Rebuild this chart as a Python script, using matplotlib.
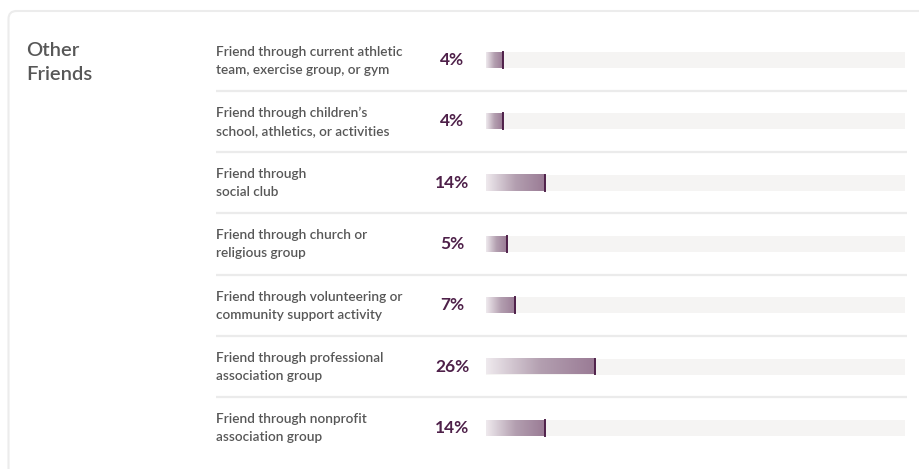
import matplotlib.pyplot as plt
import numpy as np
from matplotlib.colors import LinearSegmentedColormap
from matplotlib.patches import FancyBboxPatch

# data
group_title = "Other\nFriends"
labels = [
    "Friend through current athletic\nteam, exercise group, or gym",
    "Friend through children\u2019s\nschool, athletics, or activities",
    "Friend through\nsocial club",
    "Friend through church or\nreligious group",
    "Friend through volunteering or\ncommunity support activity",
    "Friend through professional\nassociation group",
    "Friend through nonprofit\nassociation group",
]
values = [4, 4, 14, 5, 7, 26, 14]

W, H = 919, 469
FONT = ["Lato", "DejaVu Sans"]
DARK = "#4e2049"
GREY_TXT = "#575757"

fig = plt.figure(figsize=(W / 100, H / 100), dpi=100)
fig.patch.set_facecolor("white")

# full-figure axes in pixel coordinates for decoration and text
base = fig.add_axes([0, 0, 1, 1])
base.set_xlim(0, W)
base.set_ylim(H, 0)
base.axis("off")

card = FancyBboxPatch((8.5, 11), W + 20, H + 40,
                      boxstyle="round,pad=0,rounding_size=8",
                      fc="white", ec="#ececec", lw=1.5)
base.add_patch(card)

base.text(26, 62, group_title, fontsize=14.5, color=GREY_TXT, family=FONT,
          fontweight="semibold", va="center", ha="left", linespacing=1.5)

row0, step = 60.0, 61.3
n = len(values)
for i, (lab, v) in enumerate(zip(labels, values)):
    yc = row0 + i * step
    base.text(216, yc + 0.5, lab, fontsize=9.8, color=GREY_TXT, family=FONT,
              fontweight="semibold", va="center", ha="left", linespacing=1.6)
    base.text(452, yc, f"{v}%", fontsize=12.5, color=DARK, family=FONT,
              fontweight="bold", va="center", ha="center")
    if i < n - 1:
        base.plot([216, 907], [yc + step / 2, yc + step / 2],
                  color="#ebebeb", lw=1.6, solid_capstyle="butt")

# bar axes: 0-100 % mapped onto the track
x0, x1 = 486, 905
top = row0 - step / 2
bottom = row0 + (n - 1) * step + step / 2
ax = fig.add_axes([x0 / W, 1 - bottom / H, (x1 - x0) / W, (bottom - top) / H])
ax.set_xlim(0, 100)
ax.set_ylim(n - 0.5, -0.5)
ax.axis("off")
ax.patch.set_alpha(0)

bh = 16 / step
cmap = LinearSegmentedColormap.from_list("grad", ["#efeaee", "#b39fb0", "#9a7b95"])
grad = np.linspace(0, 1, 256).reshape(1, -1)
for i, v in enumerate(values):
    ax.barh(i, 100, height=bh, color="#f5f4f3", zorder=1)
    ax.imshow(grad, cmap=cmap, aspect="auto", zorder=2,
              extent=[0, v, i + bh / 2, i - bh / 2], interpolation="bicubic")
    ax.plot([v, v], [i - bh / 2, i + bh / 2], color=DARK, lw=1.4, zorder=3)
ax.set_xlim(0, 100)
ax.set_ylim(n - 0.5, -0.5)

fig.savefig("out.png", dpi=100, facecolor="white")
